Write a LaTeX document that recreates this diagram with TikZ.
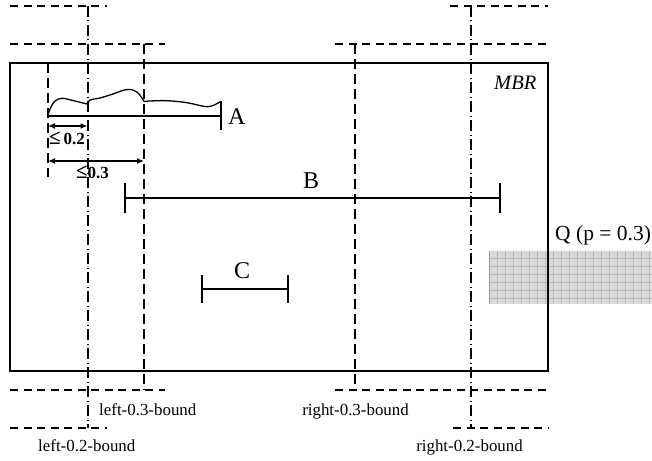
\documentclass[tikz,border=0pt]{standalone}
\usepackage{fontspec}
\setmainfont{Liberation Serif}
\usetikzlibrary{arrows.meta}
\begin{document}
\begin{tikzpicture}[x=1pt,y=-1pt,
  hdash/.style={line width=1.2pt, dash pattern=on 8pt off 5.5pt},
  vdash/.style={line width=1.2pt, dash pattern=on 10pt off 5pt},
  dashdot/.style={line width=1.1pt, dash pattern=on 11pt off 3.5pt on 1pt off 3.5pt},
  seg/.style={line width=1.5pt},
  gridline/.style={gray!55, line width=0.7pt},
  lbl/.style={font=\fontsize{16.9}{18}\selectfont, anchor=base west, inner sep=0pt},
  lble/.style={lbl, anchor=base east},
  big/.style={font=\fontsize{24}{26}\selectfont, anchor=base west, inner sep=0pt},
  dimlbl/.style={font=\bfseries\fontsize{17}{18}\selectfont, anchor=base west, inner sep=0pt},
  dimarrow/.style={{Latex[length=7pt,width=6pt]}-{Latex[length=7pt,width=6pt]}, line width=1.3pt}
]
\useasboundingbox (0,0) rectangle (652,460);
\fill[white] (0,0) rectangle (652,460);

% query region Q
\fill[gray!30] (489,251) rectangle (652,304);
\foreach \gx in {497,505,...,652} \draw[gridline] (\gx,251) -- (\gx,304);
\foreach \gy in {258,266,...,304} \draw[gridline] (489,\gy) -- (652,\gy);
\draw[gray!75, line width=1pt] (489.5,251) -- (489.5,304);

% MBR
\draw[line width=1.4pt] (10,63) rectangle (548,371);
\node[font=\itshape\fontsize{20.5}{22}\selectfont, anchor=base west, inner sep=0pt] (mbr) at (494,89) {MBR};

% horizontal dashed bounds
\draw[hdash] (10,6) -- (107,6);
\draw[hdash] (450,6) -- (548,6);
\draw[hdash] (10,44) -- (165,44);
\draw[hdash] (335,44) -- (548,44);
\draw[hdash] (10,390) -- (165,390);
\draw[hdash] (335,390) -- (548,390);
\draw[hdash] (10,428) -- (107,428);
\draw[hdash] (453,428) -- (548,428);

% vertical bound lines
\draw[dashdot] (88,6) -- (88,428);
\draw[dashdot] (471,6) -- (471,428);
\draw[vdash] (144,44) -- (144,390);
\draw[vdash] (355,44) -- (355,390);
\draw[vdash] (48,63) -- (48,177);

% segment A with curve
\coordinate (A1) at (48,116);
\coordinate (A2) at (221,116);
\draw[seg] (A1) -- (A2);
\draw[seg] (221,101) -- (221,130);
\draw[line width=1.3pt] plot[smooth, tension=0.6] coordinates {(48,116) (50,109) (55,101) (62,98.3) (70,99.8) (87,104)};
\draw[line width=1.3pt] plot[smooth, tension=0.6] coordinates {(87,104) (90,100) (100,98) (113,94) (127,89.5) (137,92) (144,101.5)};
\draw[line width=1.3pt] plot[smooth, tension=0.6] coordinates {(144,101.5) (150,101) (167,100.7) (187,102.7) (205,106.5) (213,105.5) (220.5,101.5)};
\node[big] (lA) at (228,124.5) {A};

% dimension arrows
\coordinate (d2a) at (48,126);
\coordinate (d2b) at (87.5,126);
\draw[dimarrow] (d2a) -- (d2b);
\node[dimlbl] (l02) at (49,144) {{\fontsize{21}{21}\selectfont ≤}\,0.2};
\coordinate (d3a) at (48,161);
\coordinate (d3b) at (144,161);
\draw[dimarrow] (d3a) -- (d3b);
\node[dimlbl] (l03) at (76,178) {{\fontsize{21}{21}\selectfont ≤}0.3};

% segment B
\coordinate (B1) at (125,198);
\coordinate (B2) at (500,198);
\draw[seg] (B1) -- (B2);
\draw[seg] (125,183) -- (125,213);
\draw[seg] (500,183) -- (500,213);
\node[big] (lB) at (303,188) {B};

% segment C
\coordinate (C1) at (202,289);
\coordinate (C2) at (288,289);
\draw[seg] (C1) -- (C2);
\draw[seg] (202,275) -- (202,303);
\draw[seg] (288,275) -- (288,303);
\node[big] (lC) at (234,278) {C};

% Q label
\node[font=\fontsize{21.5}{23}\selectfont, anchor=base west, inner sep=0pt] (lQ) at (555,240) {Q (p = 0.3)};

% bound labels
\node[lbl] (l3) at (99,415) {left-0.3-bound};
\node[lbl] (l2) at (38,451) {left-0.2-bound};
\node[lble] (r3) at (409,415) {right-0.3-bound};
\node[lble] (r2) at (523,451) {right-0.2-bound};
\end{tikzpicture}
\end{document}
